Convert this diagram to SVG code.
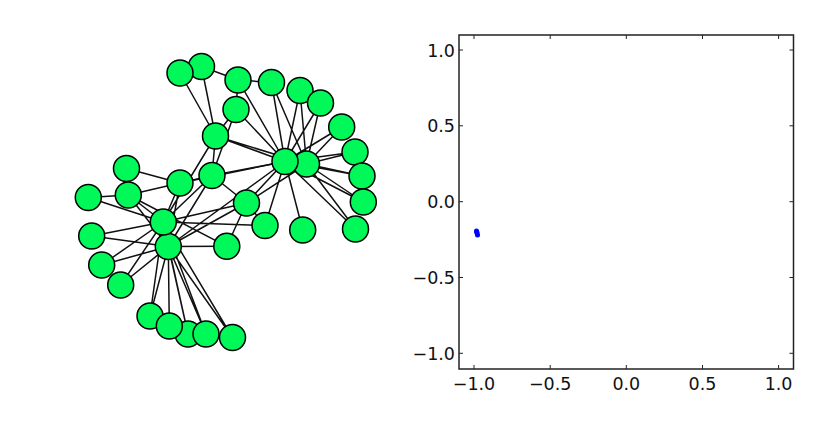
<svg xmlns="http://www.w3.org/2000/svg" width="839" height="434" viewBox="0 0 839 434">
<style>
.e{stroke:#111;stroke-width:1.5;fill:none}
.n circle{fill:#00f858;stroke:#000;stroke-width:1.5}
.ax{fill:none;stroke:#222;stroke-width:1.5}
.tk{stroke:#222;stroke-width:1}
.lb{font-family:"DejaVu Sans",sans-serif;font-size:17.5px;fill:#111}
</style>
<rect width="839" height="434" fill="#fff"/>
<g id="connectors">
<path class="e" d="M180,73L215.5,136M201.5,66.5L215.5,136M201.5,66.5L238,80M238,80L271.5,82.5M238,80L236,109.5M236,109.5L215.5,136M238,80L285,161.5M236,109.5L285,161.5M271.5,82.5L285,161.5M271.5,82.5L306.5,164M300,90.5L285,161.5M300,90.5L306.5,164M320.5,103L285,161.5M320.5,103L306.5,164M341.7,127L285,161.5M341.7,127L306.5,164M355,152L285,161.5M355,152L306.5,164M362,176L285,161.5M362,176L306.5,164M363.3,202L285,161.5M363.3,202L306.5,164M355.5,229L285,161.5M355.5,229L306.5,164M215.5,136L285,161.5M215.5,136L306.5,164M215.5,136L212,175.5M236,109.5L212,175.5M212,175.5L285,161.5M212,175.5L246.5,203M246.5,203L285,161.5M246.5,203L306.5,164M265,225.5L285,161.5M302.7,230L285,161.5M246.5,203L265,225.5M226.8,246.3L246.5,203M180,183L212,175.5"/>
<path class="e" d="M126.5,168.5L180,183M128.3,195L180,183M88.3,197.5L128.3,195M88.3,197.5L163.3,222M128.3,195L163.3,222M128.3,195L168.3,246.5M91.7,236L163.3,222M91.7,236L168.3,246.5M101.7,265L168.3,246.5M101.7,265L163.3,222M120.7,285L168.3,246.5M120.7,285L163.3,222M150,316L168.3,246.5M169.3,326L168.3,246.5M188,334L168.3,246.5M206,334L168.3,246.5M232.5,337.5L168.3,246.5M150,316L163.3,222M188,334L163.3,222M206,334L163.3,222M232.5,337.5L163.3,222M180,183L163.3,222M180,183L168.3,246.5M163.3,222L212,175.5M168.3,246.5L212,175.5M163.3,222L215.5,136M163.3,222L246.5,203M168.3,246.5L246.5,203M163.3,222L265,225.5M168.3,246.5L226.8,246.3M128.3,195L226.8,246.3M180,183L285,161.5M168.3,246.5L285,161.5"/>
</g>
<g id="nodes" class="n">
<g id="B"><circle cx="201.5" cy="66.5" r="13"/></g>
<g id="A"><circle cx="180" cy="73" r="13"/></g>
<g id="C"><circle cx="238" cy="80" r="13"/></g>
<g id="D"><circle cx="271.5" cy="82.5" r="13"/></g>
<g id="E"><circle cx="300" cy="90.5" r="13"/></g>
<g id="F"><circle cx="320.5" cy="103" r="13"/></g>
<g id="G"><circle cx="236" cy="109.5" r="13"/></g>
<g id="H"><circle cx="341.7" cy="127" r="13"/></g>
<g id="I"><circle cx="215.5" cy="136" r="13"/></g>
<g id="J"><circle cx="355" cy="152" r="13"/></g>
<g id="K"><circle cx="362" cy="176" r="13"/></g>
<g id="L"><circle cx="363.3" cy="202" r="13"/></g>
<g id="M"><circle cx="355.5" cy="229" r="13"/></g>
<g id="O"><circle cx="306.5" cy="164" r="13"/></g>
<g id="N"><circle cx="285" cy="161.5" r="13"/></g>
<g id="P"><circle cx="126.5" cy="168.5" r="13"/></g>
<g id="Q"><circle cx="212" cy="175.5" r="13"/></g>
<g id="R"><circle cx="180" cy="183" r="13"/></g>
<g id="S"><circle cx="128.3" cy="195" r="13"/></g>
<g id="T"><circle cx="88.3" cy="197.5" r="13"/></g>
<g id="U"><circle cx="246.5" cy="203" r="13"/></g>
<g id="W"><circle cx="265" cy="225.5" r="13"/></g>
<g id="X"><circle cx="302.7" cy="230" r="13"/></g>
<g id="Y"><circle cx="91.7" cy="236" r="13"/></g>
<g id="Z"><circle cx="226.8" cy="246.3" r="13"/></g>
<g id="AA"><circle cx="168.3" cy="246.5" r="13"/></g>
<g id="V"><circle cx="163.3" cy="222" r="13"/></g>
<g id="AB"><circle cx="101.7" cy="265" r="13"/></g>
<g id="AC"><circle cx="120.7" cy="285" r="13"/></g>
<g id="AD"><circle cx="150" cy="316" r="13"/></g>
<g id="AF"><circle cx="188" cy="334" r="13"/></g>
<g id="AE"><circle cx="169.3" cy="326" r="13"/></g>
<g id="AG"><circle cx="206" cy="334" r="13"/></g>
<g id="AH"><circle cx="232.5" cy="337.5" r="13"/></g>
</g>
<g id="plot">
<g fill="#0000ff">
<circle cx="476.5" cy="231" r="2.5"/><circle cx="477" cy="233" r="2.5"/><circle cx="477.5" cy="235" r="2.5"/><circle cx="476.8" cy="232" r="2.5"/>
</g>
<rect class="ax" x="459" y="35" width="334.5" height="334"/>
<path class="tk" d="M474,369v-4M550.2,369v-4M626.3,369v-4M702.5,369v-4M778.6,369v-4M474,35v4M550.2,35v4M626.3,35v4M702.5,35v4M778.6,35v4M459,50h4M459,125.8h4M459,201.7h4M459,277.5h4M459,353.3h4M793.5,50h-4M793.5,125.8h-4M793.5,201.7h-4M793.5,277.5h-4M793.5,353.3h-4"/>
<g class="lb" text-anchor="end">
<text x="455" y="56.5">1.0</text>
<text x="455" y="132.3">0.5</text>
<text x="455" y="208.2">0.0</text>
<text x="455" y="284">−0.5</text>
<text x="455" y="359.8">−1.0</text>
</g>
<g class="lb" text-anchor="middle">
<text x="474" y="390">−1.0</text>
<text x="550.2" y="390">−0.5</text>
<text x="626.3" y="390">0.0</text>
<text x="702.5" y="390">0.5</text>
<text x="778.6" y="390">1.0</text>
</g>
</g>
</svg>
